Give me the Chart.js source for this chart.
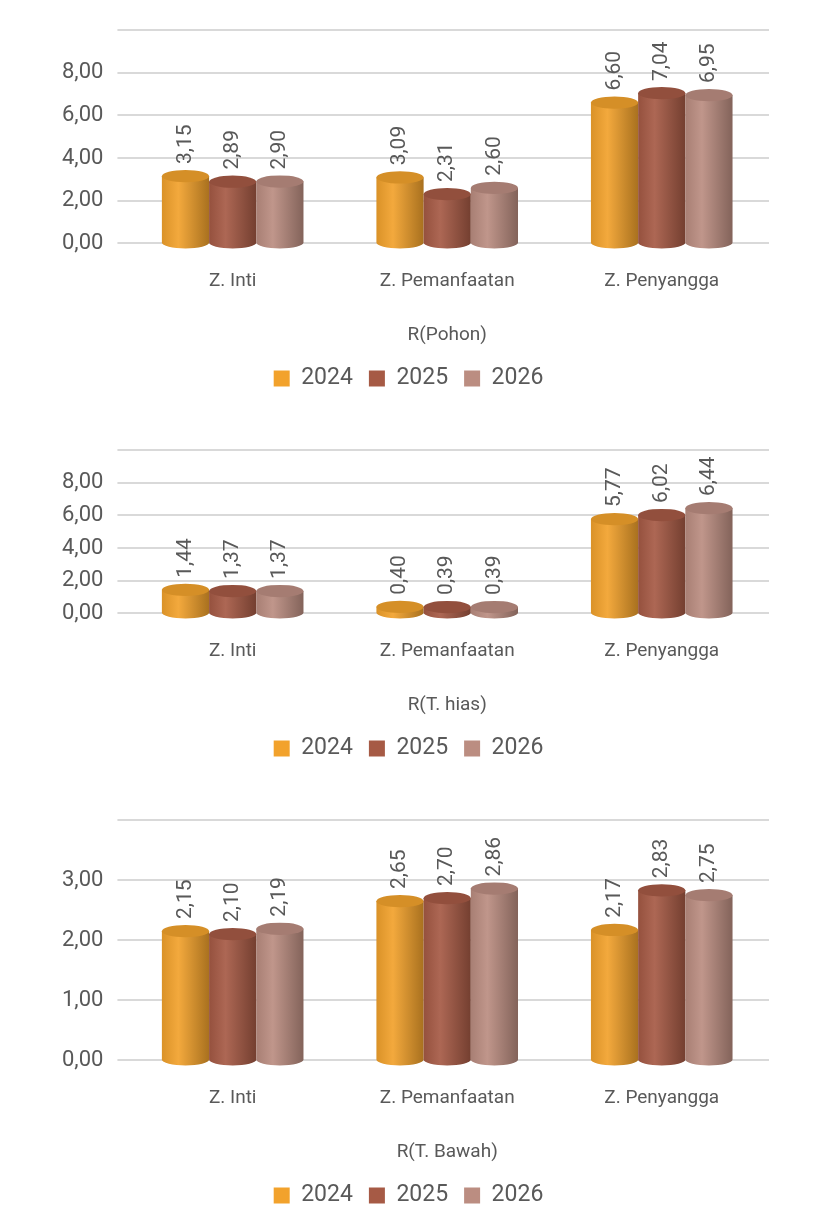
<!DOCTYPE html>
<html lang="id">
<head>
<meta charset="UTF-8">
<title>R charts</title>
<style>
    body { margin: 0; background: #fff; width: 819px; font-family: Roboto, sans-serif; }
    .box { position: relative; width: 819px; }
</style>
</head>
<body>
<div class="box" style="height:410px"><canvas id="c1"></canvas></div>
<div class="box" style="height:370px"><canvas id="c2"></canvas></div>
<div class="box" style="height:447px"><canvas id="c3"></canvas></div>
<script src="https://cdn.jsdelivr.net/npm/chart.js"></script>
<script>
const categories = ['Z. Inti', 'Z. Pemanfaatan', 'Z. Penyangga'];
const years = ['2024', '2025', '2026'];
const colors = ['#F2A22C', '#A65A45', '#BB8D81'];

const pohon2024 = [3.15, 3.09, 6.60];
const pohon2025 = [2.89, 2.31, 7.04];
const pohon2026 = [2.90, 2.60, 6.95];

const hias2024 = [1.44, 0.40, 5.77];
const hias2025 = [1.37, 0.39, 6.02];
const hias2026 = [1.37, 0.39, 6.44];

const bawah2024 = [2.15, 2.65, 2.17];
const bawah2025 = [2.10, 2.70, 2.83];
const bawah2026 = [2.19, 2.86, 2.75];

const fmt = v => v.toFixed(2).replace('.', ',');

function shade(hex, f) {
    const n = parseInt(hex.slice(1), 16);
    let r = n >> 16, g = (n >> 8) & 255, b = n & 255;
    const m = c => Math.max(0, Math.min(255, Math.round(f > 0 ? c + (255 - c) * f : c * (1 + f))));
    return `rgb(${m(r)},${m(g)},${m(b)})`;
}

// cylinder look + rotated value labels
const cylinder = {
    id: 'cylinder',
    afterDatasetsDraw(chart) {
        const ctx = chart.ctx;
        chart.data.datasets.forEach((ds, di) => {
            chart.getDatasetMeta(di).data.forEach((bar, i) => {
                const w = bar.width, x0 = bar.x - w / 2, top = bar.y, base = bar.base;
                const ry = w * 0.13;
                const c = colors[di];
                const g = ctx.createLinearGradient(x0, 0, x0 + w, 0);
                g.addColorStop(0, shade(c, -0.1));
                g.addColorStop(0.35, shade(c, 0.08));
                g.addColorStop(1, shade(c, -0.3));
                ctx.save();
                ctx.fillStyle = g;
                ctx.beginPath();
                ctx.moveTo(x0, top);
                ctx.lineTo(x0, base);
                ctx.ellipse(bar.x, base, w / 2, ry, 0, Math.PI, 0, true);
                ctx.lineTo(x0 + w, top);
                ctx.closePath();
                ctx.fill();
                ctx.fillStyle = shade(c, -0.12);
                ctx.beginPath();
                ctx.ellipse(bar.x, top, w / 2, ry, 0, 0, Math.PI * 2);
                ctx.fill();
                ctx.fillStyle = '#595959';
                ctx.font = '21px Roboto';
                ctx.translate(bar.x, top - ry - 6);
                ctx.rotate(-Math.PI / 2);
                ctx.textAlign = 'left';
                ctx.textBaseline = 'middle';
                ctx.fillText(fmt(ds.data[i]), 0, 0);
                ctx.restore();
            });
        });
    }
};

function makeChart(id, series, title, max, step, top) {
    new Chart(document.getElementById(id), {
        type: 'bar',
        data: {
            labels: categories,
            datasets: series.map((d, k) => ({
                label: years[k], data: d, backgroundColor: 'rgba(0,0,0,0)', borderWidth: 0
            }))
        },
        options: {
            responsive: true,
            maintainAspectRatio: false,
            animation: false,
            layout: { padding: { top: top, left: 48, right: 50, bottom: 10 } },
            datasets: { bar: { categoryPercentage: 0.66, barPercentage: 1 } },
            plugins: {
                tooltip: { enabled: false },
                legend: {
                    position: 'bottom',
                    labels: {
                        color: '#595959', font: { size: 23, family: 'Roboto' },
                        boxWidth: 16, boxHeight: 16, padding: 16,
                        generateLabels: () => years.map((y, k) => ({
                            text: y, fillStyle: colors[k], strokeStyle: colors[k], lineWidth: 0,
                            fontColor: '#595959', datasetIndex: k
                        }))
                    }
                }
            },
            scales: {
                x: {
                    grid: { display: false },
                    border: { display: false },
                    ticks: { color: '#595959', font: { size: 19, family: 'Roboto' }, padding: 18 },
                    title: { display: true, text: title, color: '#595959', font: { size: 19, family: 'Roboto' }, padding: { top: 14, bottom: 4 } }
                },
                y: {
                    min: 0, max: max,
                    border: { display: false },
                    grid: { color: '#d9d9d9', lineWidth: 2 },
                    ticks: {
                        stepSize: step, color: '#595959', font: { size: 22, family: 'Roboto' }, padding: 14,
                        callback: v => v > max - step + 0.001 ? '' : fmt(v)
                    }
                }
            }
        },
        plugins: [cylinder]
    });
}

makeChart('c1', [pohon2024, pohon2025, pohon2026], 'R(Pohon)', 10, 2, 30);
makeChart('c2', [hias2024, hias2025, hias2026], 'R(T. hias)', 10, 2, 40);
makeChart('c3', [bawah2024, bawah2025, bawah2026], 'R(T. Bawah)', 4, 1, 40);
</script>
</body>
</html>
